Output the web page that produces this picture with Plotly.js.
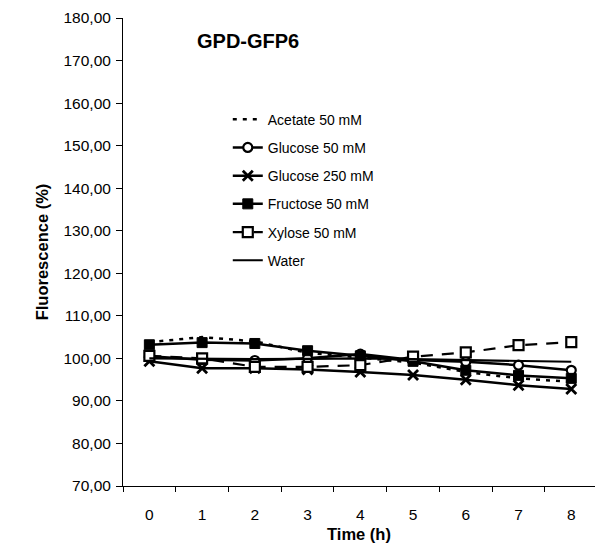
<!DOCTYPE html>
<html>
<head>
<meta charset="utf-8">
<script src="https://cdn.plot.ly/plotly-3.0.1.min.js"></script>
<style>html,body{margin:0;padding:0;background:#fff;}#chart{width:595px;height:550px;}</style>
</head>
<body>
<div id="chart"></div>
<script>
var hours = ['0','1','2','3','4','5','6','7','8'];
var acetate50   = [103.8, 105.0, 104.0, 101.3, 100.2, 99.0, 96.8, 95.3, 94.5];
var glucose50   = [100.5, 99.7, 99.5, 100.0, 101.0, 99.6, 99.2, 98.4, 97.2];
var glucose250  = [99.3, 97.7, 97.7, 97.4, 96.8, 96.1, 95.0, 93.7, 92.8];
var fructose50  = [103.2, 103.7, 103.5, 101.8, 100.6, 99.3, 97.2, 96.0, 95.3];
var xylose50    = [100.6, 100.0, 98.0, 98.0, 98.4, 100.4, 101.4, 103.1, 103.8];
var water       = [100.0, 99.9, 99.8, 99.9, 100.0, 99.8, 99.6, 99.4, 99.2];
var seriesNames = ['Acetate 50 mM','Glucose 50 mM','Glucose 250 mM','Fructose 50 mM','Xylose 50 mM','Water'];
var yTicks = [70,80,90,100,110,120,130,140,150,160,170,180];

var traces = [
  {y: acetate50, name: seriesNames[0], mode: 'lines',
   line: {color: '#000', width: 2.5, dash: '4px,6px'}},
  {y: glucose50, name: seriesNames[1], mode: 'lines+markers',
   line: {color: '#000', width: 2.5},
   marker: {symbol: 'circle', size: 9, color: '#fff', line: {color: '#000', width: 2.2}}},
  {y: glucose250, name: seriesNames[2], mode: 'lines+markers',
   line: {color: '#000', width: 2.5},
   marker: {symbol: 'x-thin-open', size: 10, color: '#000', line: {color: '#000', width: 2.8}}},
  {y: fructose50, name: seriesNames[3], mode: 'lines+markers',
   line: {color: '#000', width: 2.5},
   marker: {symbol: 'square', size: 10, color: '#000', line: {color: '#000', width: 1}}},
  {y: xylose50, name: seriesNames[4], mode: 'lines+markers',
   line: {color: '#000', width: 2.2, dash: '12px,9px'},
   marker: {symbol: 'square', size: 10, color: '#fff', line: {color: '#000', width: 2.2}}},
  {y: water, name: seriesNames[5], mode: 'lines',
   line: {color: '#000', width: 2.2}}
].map(function(t, i){ t.x = hours; t.type = 'scatter'; t.legendgroup = 'g' + i; return t; });

var layout = {
  width: 595, height: 550,
  margin: {l: 123, r: 0, t: 18, b: 64},
  paper_bgcolor: '#fff', plot_bgcolor: '#fff',
  separators: ',.',
  font: {family: 'Liberation Sans, Arial, sans-serif', color: '#000', size: 14},
  showlegend: true,
  legend: {x: 0.222, y: 0.817, xanchor: 'left', yanchor: 'top', bgcolor: 'rgba(0,0,0,0)',
           font: {size: 14, family: 'Liberation Sans, Arial, sans-serif'}, tracegroupgap: 7,
           traceorder: 'grouped'},
  xaxis: {type: 'category', range: [-0.5, 8.45], tickson: 'boundaries', ticks: 'outside',
          ticklen: 5, tickcolor: '#000', showline: true, linecolor: '#000', linewidth: 1,
          showgrid: false, zeroline: false, tickfont: {size: 15.5}, ticklabelstandoff: 14,
          title: {text: '<b>Time (h)</b>', font: {size: 16.5}, standoff: 6}},
  yaxis: {range: [70, 180], tickvals: yTicks, tickformat: '.2f', ticks: 'outside',
          ticklen: 6, tickcolor: '#000', showline: true, linecolor: '#000', linewidth: 1,
          showgrid: false, zeroline: false, tickfont: {size: 15.5}, ticklabelstandoff: 2,
          title: {text: '<b>Fluorescence (%)</b>', font: {size: 16.5}, standoff: 10}},
  annotations: [{text: '<b>GPD-GFP6</b>', xref: 'paper', yref: 'paper', x: 0.152, y: 0.95,
                 xanchor: 'left', yanchor: 'middle', showarrow: false, font: {size: 20}}]
};

Plotly.newPlot('chart', traces, layout, {displayModeBar: false, staticPlot: true});
</script>
</body>
</html>
